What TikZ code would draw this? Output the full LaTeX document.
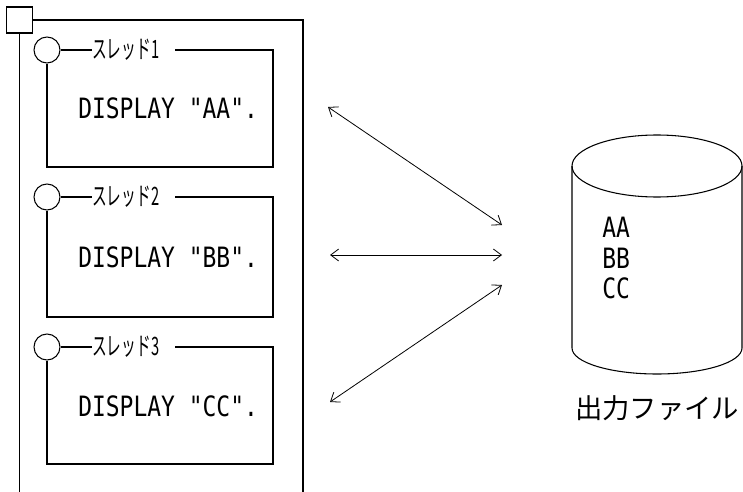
\documentclass[tikz,border=0pt]{standalone}
\usepackage{fontspec}
\newfontfamily\codefont[FakeStretch=0.82]{DejaVu Sans Mono}
\newfontfamily\jpfont{Noto Sans CJK JP}
\newfontfamily\jpnarrow[FakeStretch=0.58]{Noto Sans CJK JP}
\usetikzlibrary{arrows.meta,positioning}
\tikzset{
  wire/.style={draw=black, line width=0.8pt},
  procbox/.style={draw=black, line width=0.8pt, minimum width=19pt, minimum height=19.5pt, inner sep=0pt},
  port/.style={circle, draw=black, line width=0.8pt, minimum size=19.5pt, inner sep=0pt},
  threadname/.style={anchor=west, inner sep=0pt, font=\jpnarrow\fontsize{19}{19}\selectfont},
  stmt/.style={anchor=base west, inner sep=0pt, font=\codefont\fontsize{21}{21}\selectfont},
  recline/.style={anchor=base west, inner sep=0pt, font=\codefont\fontsize{21}{21}\selectfont},
  filename/.style={inner sep=0pt, font=\jpfont\fontsize{20.5}{20.5}\selectfont},
  access/.style={{Straight Barb[length=6pt,width=9pt]}-{Straight Barb[length=6pt,width=9pt]}, line width=0.6pt, draw=black}
}

\begin{document}
\begin{tikzpicture}[x=0.75pt, y=-0.75pt]
        \useasboundingbox (0,0) rectangle (743,492);
        % run unit and its threads
        \node[procbox] (run) at (19.5,20) {};
        \draw[wire] (run.east) -- (303,20) -- (303,500);
        \draw[wire] (run.south) -- (19.5,500);

        \node[port] (p1) at (47,50) {};
        \node[threadname] (t1) at (92,50) {スレッド1};
        \draw[wire] (p1.east) -- (t1.west);
        \draw[wire] (175,50) -- (273,50) -- (273,167) -- (47,167) -- (p1.south);
        \node[stmt] (s1) at (78,118) {DISPLAY "AA".};

        \node[port] (p2) at (47,197) {};
        \node[threadname] (t2) at (92,197) {スレッド2};
        \draw[wire] (p2.east) -- (t2.west);
        \draw[wire] (175,197) -- (273,197) -- (273,317) -- (47,317) -- (p2.south);
        \node[stmt] (s2) at (78,267) {DISPLAY "BB".};

        \node[port] (p3) at (47,347) {};
        \node[threadname] (t3) at (92,347) {スレッド3};
        \draw[wire] (p3.east) -- (t3.west);
        \draw[wire] (175,347) -- (273,347) -- (273,464) -- (47,464) -- (p3.south);
        \node[stmt] (s3) at (78,416) {DISPLAY "CC".};

        % output file
        \draw[wire] (657,166) ellipse[x radius=63.75pt, y radius=23.25pt];
        \draw[wire] (572,166) -- (572,348) arc[start angle=180, end angle=360, x radius=63.75pt, y radius=19.5pt] -- (742,166);
        \node[recline] (r1) at (602,237) {AA};
        \node[recline] (r2) at (602,268) {BB};
        \node[recline] (r3) at (602,298) {CC};
        \node[filename] (out) at (657,408) {出力ファイル};

        % accesses
        \coordinate (a1) at (328,107);
        \coordinate (b1) at (502,225);
        \coordinate (a2) at (330,255);
        \coordinate (b2) at (502,255);
        \coordinate (a3) at (330,402);
        \coordinate (b3) at (502,285);
        \draw[access] (a1) -- (b1);
        \draw[access] (a2) -- (b2);
        \draw[access] (a3) -- (b3);
      \end{tikzpicture}
\end{document}
